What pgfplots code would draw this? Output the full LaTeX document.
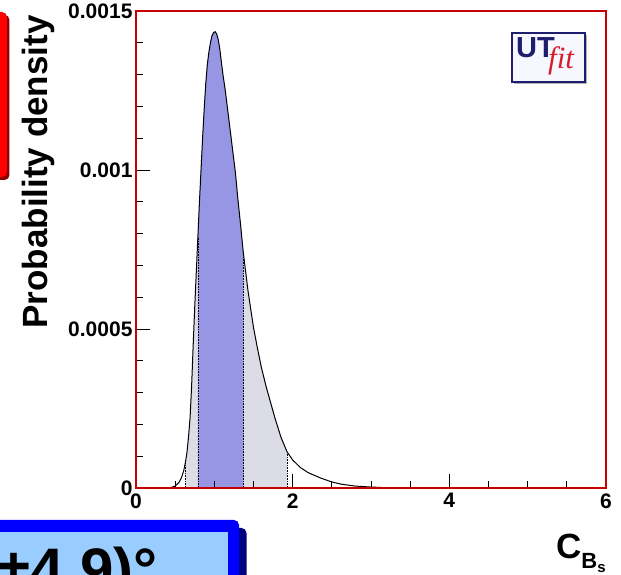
\documentclass[border=0pt]{standalone}
\usepackage{fontspec}
\setmainfont{Liberation Sans}
\newfontfamily\serifit{Liberation Serif}
\usepackage{pgfplots}
\usepackage{pgfplotstable}
\pgfplotsset{compat=1.18}
\definecolor{darkband}{RGB}{150,150,228}
\definecolor{lightband}{RGB}{220,220,230}
\definecolor{framered}{RGB}{200,0,0}
\definecolor{utnavy}{RGB}{30,30,110}
\definecolor{utred}{RGB}{215,30,45}
\definecolor{boxblue}{RGB}{0,0,255}
\definecolor{boxnavy}{RGB}{0,0,128}
\definecolor{boxlight}{RGB}{153,204,255}
\pgfplotstableread{
x y
0.00 0
0.40 0
0.45 0.000002
0.50 0.000006
0.55 0.000018
0.58 0.000032
0.61 0.000055
0.63 0.00008
0.65 0.00011
0.67 0.00016
0.69 0.00022
0.71 0.00032
0.73 0.00045
0.75 0.00057
0.77 0.00068
0.79 0.00079
0.81 0.00090
0.83 0.00100
0.85 0.00110
0.87 0.00119
0.89 0.00127
0.91 0.00133
0.93 0.00137
0.95 0.00140
0.97 0.001422
0.99 0.001432
1.01 0.001435
1.03 0.001428
1.05 0.00141
1.07 0.00138
1.09 0.00134
1.11 0.00130
1.14 0.00125
1.17 0.00119
1.20 0.00113
1.23 0.00107
1.27 0.00099
1.30 0.00091
1.33 0.00084
1.37 0.00074
1.40 0.00068
1.43 0.00062
1.46 0.00057
1.50 0.000505
1.55 0.00044
1.60 0.00038
1.66 0.00032
1.72 0.000267
1.78 0.000215
1.85 0.00016
1.93 0.000113
2.00 0.000088
2.10 0.000064
2.20 0.000048
2.36 0.000031
2.50 0.000019
2.62 0.000012
2.80 0.000006
3.00 0.000003
3.30 0
6.00 0
}\pdftable
\begin{document}
\begin{tikzpicture}
\clip (-136pt,-87pt) rectangle (485pt,488pt);
% red box (top left, cut)
\fill[red!55!black, rounded corners=5pt] (-170pt,308pt) rectangle (-126.5pt,473pt);
\fill[red, rounded corners=5pt] (-170pt,311pt) rectangle (-129pt,476pt);
% blue box (bottom left, cut)
\fill[boxnavy, rounded corners=5pt] (-170pt,-130pt) rectangle (110.5pt,-40pt);
\fill[boxblue, rounded corners=5pt] (-170pt,-130pt) rectangle (103pt,-32pt);
\fill[boxlight] (-170pt,-130pt) rectangle (92pt,-44pt);
\node[anchor=base east, inner sep=0pt, font=\fontsize{60}{60}\selectfont\bfseries] at (22pt,-103pt) {±4.9)°};
\begin{axis}[
  at={(0pt,0pt)}, anchor=south west, scale only axis,
  width=470pt, height=477pt,
  xmin=0, xmax=6, ymin=0, ymax=0.0015,
  axis on top,
  axis line style={draw=framered, line width=1.2pt},
  tick style={black, line width=0.7pt},
  tick align=inside,
  major tick length=14pt, minor tick length=7pt,
  xtick pos=left, ytick pos=left,
  xtick={0,2,4,6}, xticklabels={0,2,4,6},
  minor xtick={0.5,1,1.5,2.5,3,3.5,4.5,5,5.5},
  ytick={0,0.0005,0.001,0.0015}, yticklabels={0,0.0005,0.001,0.0015},
  minor ytick={0.0001,0.0002,0.0003,0.0004,0.0006,0.0007,0.0008,0.0009,0.0011,0.0012,0.0013,0.0014},
  scaled y ticks=false,
  /pgf/number format/assume math mode=true,
  tick label style={font=\fontsize{21}{21}\selectfont\bfseries},
  xticklabel style={yshift=-2pt},
  ylabel={Probability density},
  ylabel style={font=\fontsize{35}{35}\selectfont\bfseries, at={(axis description cs:-0.2085,0.6625)}, anchor=center},
  xlabel={C\raisebox{-10pt}{\fontsize{22}{22}\selectfont B\raisebox{-4pt}{\fontsize{15}{15}\selectfont s}}},
  xlabel style={font=\fontsize{35}{35}\selectfont\bfseries, at={(axis description cs:0.8936,-0.1468)}, anchor=base west, inner sep=0pt},
]
\addplot[fill=lightband, draw=none, restrict x to domain=0.63:1.93] table {\pdftable} \closedcycle;
\addplot[fill=darkband, draw=none, restrict x to domain=0.79:1.37] table {\pdftable} \closedcycle;
\addplot[black, densely dotted, line width=0.6pt] coordinates {(0.63,0) (0.63,0.00008)};
\addplot[black, densely dotted, line width=0.6pt] coordinates {(0.79,0) (0.79,0.00079)};
\addplot[black, densely dotted, line width=0.6pt] coordinates {(1.37,0) (1.37,0.00074)};
\addplot[black, densely dotted, line width=0.6pt] coordinates {(1.93,0) (1.93,0.000113)};
\addplot[black, line width=1pt] table {\pdftable};
\end{axis}
% UTfit logo
\fill[gray!60] (378pt,404pt) rectangle (451pt,453pt);
\draw[utnavy, line width=1.5pt, fill=blue!3] (376pt,406pt) rectangle (449pt,455pt);
\node[anchor=base west, inner sep=0pt, text=utnavy, font=\fontsize{29}{29}\selectfont\bfseries] at (380pt,430pt) {UT};
\node[anchor=base west, inner sep=0pt, text=utred, font=\fontsize{31}{31}\selectfont\serifit\itshape] at (412pt,419pt) {fit};
\end{tikzpicture}
\end{document}
